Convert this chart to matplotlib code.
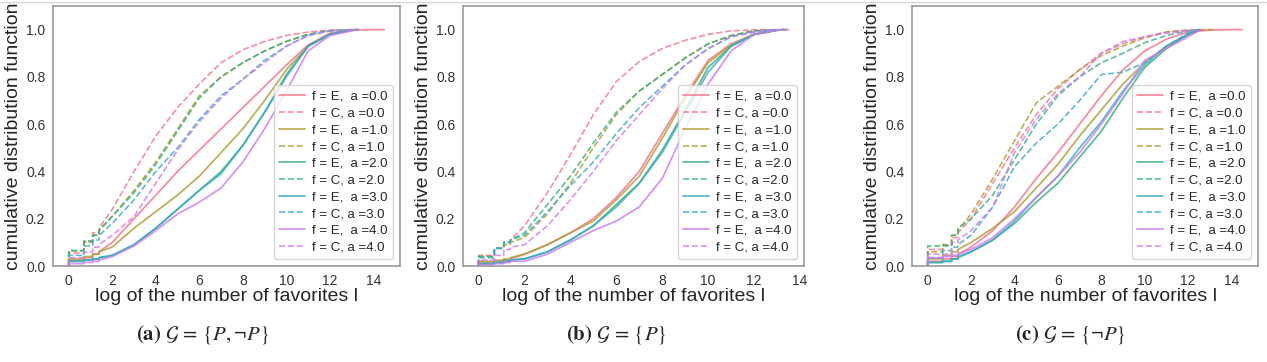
import matplotlib
matplotlib.use("Agg")
import matplotlib.pyplot as plt
import seaborn as sns
from matplotlib.lines import Line2D

# x positions where the CDF values were read (log of favorites)
GRID = [0, 0.69, 1.10, 1.39, 2, 3, 4, 5, 6, 7, 8, 9, 10, 11, 12, 13, 14]
ALPHAS = [0.0, 1.0, 2.0, 3.0, 4.0]

# panel (a)  G = {P, -P}
a_E = [
    [0.025, 0.035, 0.05, 0.06, 0.10, 0.20, 0.30, 0.40, 0.49, 0.58, 0.67, 0.76, 0.85, 0.935, 0.985, 0.998, 1.0],
    [0.03, 0.04, 0.05, 0.06, 0.08, 0.16, 0.23, 0.30, 0.38, 0.48, 0.58, 0.70, 0.83, 0.93, 0.98, 0.998],
    [0.02, 0.025, 0.03, 0.035, 0.045, 0.09, 0.16, 0.24, 0.32, 0.40, 0.51, 0.65, 0.81, 0.93, 0.98, 0.998],
    [0.02, 0.025, 0.03, 0.035, 0.045, 0.09, 0.16, 0.24, 0.32, 0.39, 0.51, 0.65, 0.80, 0.93, 0.98, 0.997],
    [0.01, 0.015, 0.02, 0.025, 0.04, 0.085, 0.15, 0.22, 0.27, 0.33, 0.44, 0.58, 0.74, 0.91, 0.975, 0.995],
]
a_C = [
    [0.055, 0.10, 0.14, 0.16, 0.24, 0.40, 0.55, 0.67, 0.77, 0.86, 0.915, 0.95, 0.975, 0.99, 0.998],
    [0.065, 0.105, 0.13, 0.15, 0.21, 0.32, 0.44, 0.58, 0.72, 0.80, 0.86, 0.91, 0.95, 0.98, 0.995],
    [0.065, 0.105, 0.13, 0.15, 0.21, 0.31, 0.43, 0.57, 0.71, 0.80, 0.86, 0.91, 0.95, 0.98, 0.995],
    [0.045, 0.085, 0.11, 0.13, 0.18, 0.28, 0.40, 0.50, 0.62, 0.72, 0.79, 0.87, 0.93, 0.975, 0.995],
    [0.035, 0.06, 0.08, 0.09, 0.13, 0.21, 0.35, 0.49, 0.61, 0.71, 0.79, 0.86, 0.93, 0.975, 0.995],
]
a_end_E = [14.5, 13.3, 13.3, 13.2, 13.3]
a_end_C = [13.3, 13.3, 13.0, 13.0, 13.2]

# panel (b)  G = {P}
b_E = [
    [0.015, 0.02, 0.025, 0.03, 0.05, 0.09, 0.14, 0.20, 0.29, 0.40, 0.56, 0.72, 0.87, 0.94, 0.98, 0.998],
    [0.02, 0.025, 0.03, 0.035, 0.05, 0.09, 0.14, 0.19, 0.28, 0.38, 0.54, 0.71, 0.86, 0.935, 0.98, 0.998],
    [0.01, 0.015, 0.02, 0.025, 0.03, 0.06, 0.11, 0.17, 0.26, 0.35, 0.49, 0.66, 0.84, 0.93, 0.98, 0.997],
    [0.01, 0.015, 0.02, 0.025, 0.03, 0.06, 0.11, 0.17, 0.25, 0.35, 0.48, 0.65, 0.82, 0.93, 0.98, 0.997],
    [0.005, 0.01, 0.015, 0.02, 0.02, 0.05, 0.10, 0.15, 0.19, 0.25, 0.37, 0.58, 0.77, 0.91, 0.98, 0.998],
]
b_C = [
    [0.045, 0.075, 0.10, 0.11, 0.17, 0.31, 0.47, 0.64, 0.78, 0.865, 0.92, 0.955, 0.98, 0.995, 0.999],
    [0.04, 0.075, 0.09, 0.10, 0.12, 0.22, 0.35, 0.50, 0.64, 0.74, 0.81, 0.88, 0.94, 0.975, 0.995],
    [0.04, 0.075, 0.10, 0.11, 0.14, 0.26, 0.38, 0.52, 0.65, 0.74, 0.81, 0.88, 0.94, 0.975, 0.995],
    [0.035, 0.075, 0.10, 0.11, 0.13, 0.23, 0.34, 0.44, 0.56, 0.67, 0.76, 0.85, 0.92, 0.97, 0.99],
    [0.025, 0.045, 0.07, 0.08, 0.09, 0.17, 0.28, 0.40, 0.53, 0.64, 0.75, 0.85, 0.92, 0.97, 0.99],
]
b_end_E = [13.5, 13.4, 13.3, 13.3, 13.4]
b_end_C = [13.4, 13.3, 13.3, 13.0, 13.0]

# panel (c)  G = {-P}
c_E = [
    [0.02, 0.03, 0.04, 0.05, 0.08, 0.15, 0.25, 0.37, 0.48, 0.60, 0.72, 0.83, 0.91, 0.96, 0.99, 0.998, 1.0],
    [0.03, 0.045, 0.06, 0.07, 0.10, 0.16, 0.23, 0.33, 0.43, 0.55, 0.66, 0.77, 0.86, 0.93, 0.98],
    [0.015, 0.02, 0.03, 0.035, 0.06, 0.11, 0.18, 0.27, 0.35, 0.46, 0.57, 0.71, 0.84, 0.92, 0.98],
    [0.015, 0.02, 0.03, 0.04, 0.06, 0.11, 0.19, 0.29, 0.38, 0.50, 0.61, 0.74, 0.85, 0.93, 0.98],
    [0.035, 0.04, 0.045, 0.05, 0.07, 0.12, 0.20, 0.29, 0.38, 0.48, 0.60, 0.73, 0.87, 0.92, 0.97],
]
c_C = [
    [0.07, 0.09, 0.12, 0.14, 0.20, 0.35, 0.50, 0.64, 0.75, 0.83, 0.90, 0.94, 0.97, 0.99, 0.998],
    [0.06, 0.09, 0.13, 0.15, 0.22, 0.37, 0.53, 0.69, 0.76, 0.83, 0.89, 0.93, 0.965, 0.99, 0.998],
    [0.085, 0.085, 0.13, 0.16, 0.20, 0.30, 0.45, 0.60, 0.72, 0.80, 0.86, 0.90, 0.945, 0.975, 0.995],
    [0.035, 0.065, 0.08, 0.09, 0.13, 0.25, 0.42, 0.52, 0.60, 0.70, 0.81, 0.82, 0.86, 0.93, 0.985],
    [0.05, 0.05, 0.10, 0.11, 0.15, 0.25, 0.48, 0.62, 0.73, 0.80, 0.90, 0.95, 0.97, 0.985, 0.995],
]
c_end_E = [14.5, 12.6, 12.5, 12.5, 12.6]
c_end_C = [13.0, 13.3, 12.6, 12.5, 12.5]

captions = [r"$\mathbf{(a)}\ \mathcal{G}\,=\,\{P, \neg P\}$",
            r"$\mathbf{(b)}\ \mathcal{G}\,=\,\{P\}$",
            r"$\mathbf{(c)}\ \mathcal{G}\,=\,\{\neg P\}$"]


def cdf_path(vals, x_end):
    # ECDF: steps for the first few discrete counts, then follow the read points
    xs, ys = [0.0], [0.0]
    for i, v in enumerate(vals):
        xs.append(GRID[i]); ys.append(v)
        if i < 3:
            xs.append(GRID[i + 1]); ys.append(v)
    xs.append(x_end); ys.append(1.0)
    return xs, ys


sns.set_style("white")
plt.rcParams['font.family'] = ['Liberation Sans', 'DejaVu Sans']
plt.rcParams['mathtext.fontset'] = 'stix'

colors = sns.color_palette("husl", 5)

fig = plt.figure(figsize=(12.67, 3.62), dpi=100)
lefts = [53, 463, 912]
widths = [347, 341, 346]
panels = [(a_E, a_C, a_end_E, a_end_C),
          (b_E, b_C, b_end_E, b_end_C),
          (c_E, c_C, c_end_E, c_end_C)]
cap_x = [203, 616, 1070]

for k, (E, C, endE, endC) in enumerate(panels):
    ax = fig.add_axes([lefts[k] / 1267, 1 - 266 / 362, widths[k] / 1267, 260 / 362])
    for j, a in enumerate(ALPHAS):
        xs, ys = cdf_path(E[j], endE[j])
        ax.plot(xs, ys, color=colors[j], lw=1.3, alpha=0.8,
                label=f"f = E,  a ={a:.1f}")
        xs, ys = cdf_path(C[j], endC[j])
        ax.plot(xs, ys, color=colors[j], lw=1.2, ls='--', alpha=0.8,
                label=f"f = C, a ={a:.1f}")
    ax.set_ylim(0, 1.1)
    ax.set_yticks([0.0, 0.2, 0.4, 0.6, 0.8, 1.0])
    ax.set_xticks(range(0, 15, 2))
    ax.tick_params(labelsize=10, colors='0.2', pad=2)
    for s in ax.spines.values():
        s.set_color('0.6')
        s.set_linewidth(1.2)
    ax.set_xlabel("log of the number of favorites l", fontsize=14, labelpad=0, color='0.15')
    ax.set_ylabel("cumulative distribution function", fontsize=14, labelpad=3, color='0.15')
    ax.legend(loc='lower right', fontsize=9.5, frameon=True, handlelength=2.0,
              handletextpad=0.5, labelspacing=0.34, borderaxespad=0.55)
    fig.text(cap_x[k] / 1267, 1 - 335 / 362, captions[k], ha='center', va='center',
             fontsize=15)

fig.add_artist(Line2D([0, 1], [1 - 1.5 / 362] * 2, color='0.85', lw=1))

fig.savefig("out.png", dpi=100)
